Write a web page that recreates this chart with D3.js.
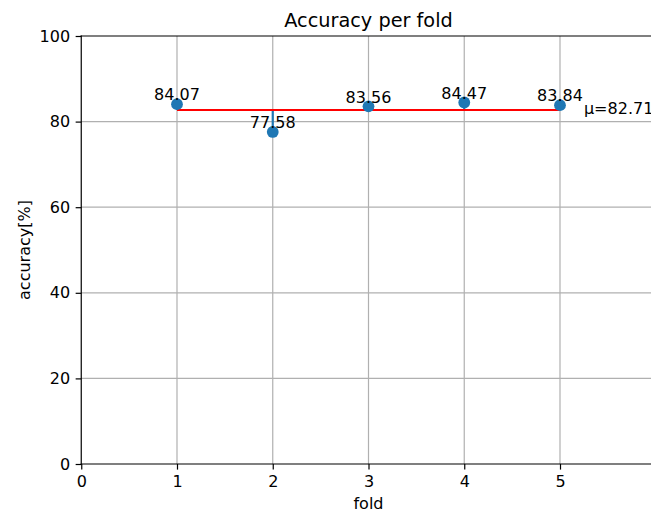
<!DOCTYPE html>
<html><head><meta charset="utf-8">
<script src="https://cdn.jsdelivr.net/npm/d3@7"></script>
<style>body{margin:0;background:#fff;overflow:hidden}text{font-family:"DejaVu Sans",sans-serif}</style>
</head><body>
<script>
const folds = [1, 2, 3, 4, 5];
const accuracy = [84.07, 77.58, 83.56, 84.47, 83.84];
const meanAcc = 82.71;
const xTicks = [0, 1, 2, 3, 4, 5];
const yTicks = [0, 20, 40, 60, 80, 100];

(function () {
const W = 651, H = 511;
const FS = 16, TFS = 19.3;
const svg = d3.select("body").append("svg").attr("width", W).attr("height", H).style("display", "block");
const pL = 81.25, pT = 36, pB = 464;
const x = d3.scaleLinear().domain([0, 6.2]).range([pL, pL + 6.2 * 95.75]);
const y = d3.scaleLinear().domain([0, 100]).range([pB, pT]);
const pR = x(6.2);

// grid
svg.append("g").selectAll("line").data(xTicks.slice(1)).join("line")
  .attr("x1", d => x(d)).attr("x2", d => x(d)).attr("y1", pT).attr("y2", pB)
  .attr("stroke", "#b0b0b0").attr("stroke-width", 1.2);
svg.append("g").selectAll("line").data(yTicks.slice(1, -1)).join("line")
  .attr("y1", d => y(d)).attr("y2", d => y(d)).attr("x1", pL).attr("x2", pR)
  .attr("stroke", "#b0b0b0").attr("stroke-width", 1.2);

// axes
const xAxis = d3.axisBottom(x).tickValues(xTicks).tickSize(5.6).tickPadding(5.6).tickFormat(d3.format("d"));
const yAxis = d3.axisLeft(y).tickValues(yTicks).tickSize(5.6).tickPadding(5.6).tickFormat(d3.format("d"));
const gx = svg.append("g").attr("transform", `translate(0,${pB})`).call(xAxis);
const gy = svg.append("g").attr("transform", `translate(${pL},0)`).call(yAxis);
[gx, gy].forEach(g => {
  g.select(".domain").remove();
  g.selectAll("line").attr("stroke", "#000").attr("stroke-width", 1.2);
  g.selectAll("text").attr("font-size", FS).attr("fill", "#000").style("font-family", "DejaVu Sans");
});
// spines (right spine lies outside the picture)
const sp = [[pL, pT, pL, pB], [pL, pB, pR, pB], [pL, pT, pR, pT]];
svg.append("g").selectAll("line").data(sp).join("line")
  .attr("x1", d => d[0]).attr("y1", d => d[1]).attr("x2", d => d[2]).attr("y2", d => d[3])
  .attr("stroke", "#000").attr("stroke-width", 1.2).attr("stroke-linecap", "square");

// vertical lines from mean to values
svg.append("g").selectAll("line").data(folds).join("line")
  .attr("x1", (d) => x(d)).attr("x2", d => x(d))
  .attr("y1", y(meanAcc)).attr("y2", (d, i) => y(accuracy[i]))
  .attr("stroke", "#1f77b4").attr("stroke-width", 2.2);

// mean line
svg.append("line").attr("x1", x(folds[0])).attr("x2", x(folds[folds.length - 1]))
  .attr("y1", y(meanAcc)).attr("y2", y(meanAcc)).attr("stroke", "red").attr("stroke-width", 2.2);

// points
svg.append("g").selectAll("circle").data(folds).join("circle")
  .attr("cx", d => x(d)).attr("cy", (d, i) => y(accuracy[i])).attr("r", 5.9).attr("fill", "#1f77b4");

// value labels
svg.append("g").selectAll("text").data(folds).join("text")
  .attr("x", d => x(d)).attr("y", (d, i) => y(accuracy[i]) - 3.8)
  .attr("text-anchor", "middle").attr("font-size", FS).attr("fill", "#000")
  .text((d, i) => accuracy[i].toFixed(2));

// mean label
svg.append("text").attr("x", x(5.25)).attr("y", y(meanAcc) + 3.8)
  .attr("font-size", FS).attr("fill", "#000").text("μ=" + meanAcc.toFixed(2));

// title & labels
svg.append("text").attr("x", (pL + x(6)) / 2).attr("y", 26.5).attr("text-anchor", "middle")
  .attr("font-size", TFS).attr("fill", "#000").text("Accuracy per fold");
svg.append("text").attr("x", (pL + x(6)) / 2).attr("y", 508.5).attr("text-anchor", "middle")
  .attr("font-size", FS).attr("fill", "#000").text("fold");
svg.append("text").attr("transform", `translate(29.5,${(pT + pB) / 2}) rotate(-90)`).attr("text-anchor", "middle")
  .attr("font-size", FS).attr("fill", "#000").text("accuracy[%]");
})();
</script>
</body></html>
